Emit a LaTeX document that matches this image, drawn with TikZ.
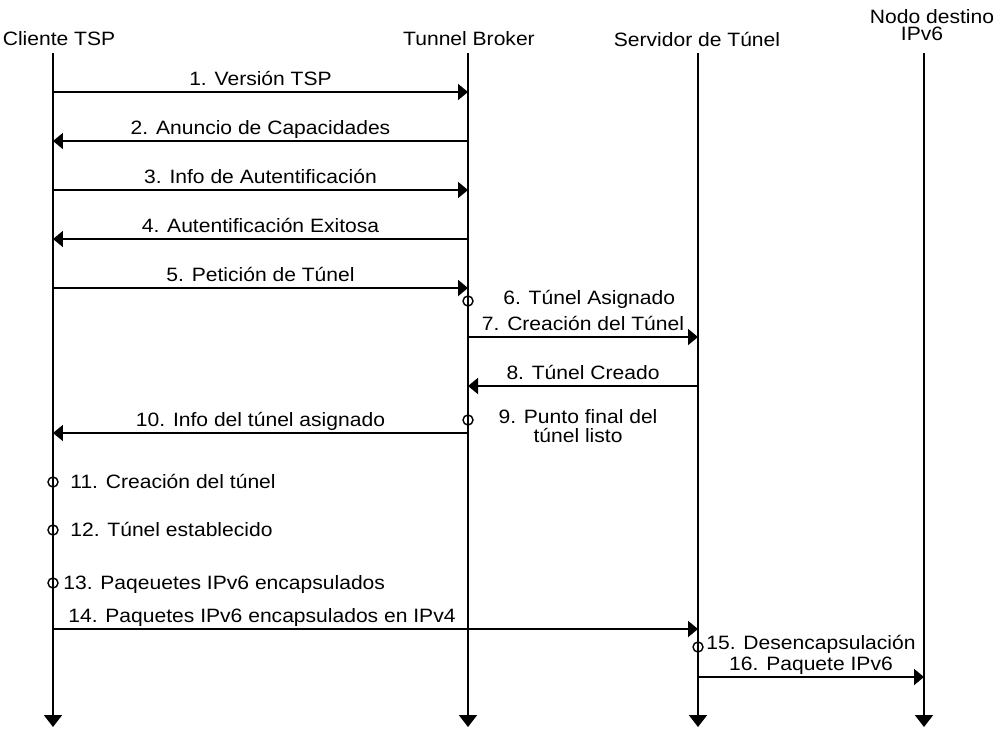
\documentclass[tikz,border=0pt]{standalone}
\usepackage{fontspec}
\setmainfont{Liberation Sans}[FakeStretch=1.09]
\usetikzlibrary{arrows.meta}

\begin{document}
\begin{tikzpicture}[x=0.02cm,y=-0.02cm,
    font=\fontsize{11}{13}\selectfont,
    >={Triangle[length=0.2cm,width=0.32cm]},
    msg/.style={line width=1.1pt,->},
    life/.style={line width=1.1pt,-{Triangle[length=0.24cm,width=0.36cm]}},
    lbl/.style={inner sep=0pt,anchor=base},
    evt/.style={circle,draw,line width=0.8pt,minimum size=0.2cm,inner sep=0pt}]

  % lifeline positions (x) and vertical extent (y)
  \def\xC{53}   % Cliente TSP
  \def\xB{468}  % Tunnel Broker
  \def\xS{698}  % Servidor de Tunel
  \def\xN{924}  % Nodo destino IPv6
  \def\yT{53}
  \def\yE{727}

  \fill[white] (0,0) rectangle (997,728);
  \useasboundingbox (0,0) rectangle (997,728);

  % =====================================================================
  % participants and lifelines
  % =====================================================================
  \node[lbl] (hC) at (59,45) {Cliente TSP};
  \node[lbl] (hB) at (469,45) {Tunnel Broker};
  \node[lbl] (hS) at (697,46) {Servidor de Túnel};
  \node[lbl] (hN) at (932,23) {Nodo destino};
  \node[lbl] (hNb) at (922,40) {IPv6};

  \foreach \n/\x in {C/\xC, B/\xB, S/\xS, N/\xN} {
    \coordinate (\n top) at (\x,\yT);
    \coordinate (\n end) at (\x,\yE);
    \draw[life] (\n top) -- (\n end);
  }

  % =====================================================================
  % messages (label baseline 7px above the arrow)
  % =====================================================================
  \foreach \s/\e/\y/\lab [count=\i] in {
      \xC/\xB/92/{1. Versión TSP},
      \xB/\xC/141/{2. Anuncio de Capacidades},
      \xC/\xB/190/{3. Info de Autentificación},
      \xB/\xC/239/{4. Autentificación Exitosa},
      \xC/\xB/288/{5. Petición de Túnel},
      \xB/\xS/337/{7. Creación del Túnel},
      \xS/\xB/386/{8. Túnel Creado},
      \xB/\xC/433/{10. Info del túnel asignado},
      \xS/\xN/677/{16. Paquete IPv6}} {
    \coordinate (m\i s) at (\s,\y);
    \coordinate (m\i e) at (\e,\y);
    \draw[msg] (m\i s) -- (m\i e);
    \node[lbl] (m\i) at ({(\s+\e)/2},\y-7) {\lab};
  }

  % 14: client straight to the tunnel server
  \coordinate (p14s) at (\xC,629);
  \coordinate (p14e) at (\xS,629);
  \draw[msg] (p14s) -- (p14e);
  \node[lbl,anchor=base west] (m14) at (68,622)
        {14. Paquetes IPv6 encapsulados en IPv4};

  % =====================================================================
  % local events on a lifeline
  % =====================================================================
  \node[evt] (e6) at (\xB,301) {};
  \node[lbl,anchor=base west] (l6) at (503,304) {6. Túnel Asignado};

  \node[evt] (e9) at (\xB,420) {};
  \node[inner sep=0pt,anchor=north,align=center,
        font=\fontsize{11}{10.8}\selectfont] (l9) at (578,409)
        {9. Punto final del\\túnel listo};

  \node[evt] (e11) at (\xC,482) {};
  \node[lbl,anchor=base west] (l11) at (70,488) {11. Creación del túnel};
  \node[evt] (e12) at (\xC,530) {};
  \node[lbl,anchor=base west] (l12) at (70,536) {12. Túnel establecido};
  \node[evt] (e13) at (\xC,583) {};
  \node[lbl,anchor=base west] (l13) at (63,589) {13. Paqeuetes IPv6 encapsulados};

  \node[evt] (e15) at (\xS,647) {};
  \node[lbl,anchor=base west] (l15) at (706,649) {15. Desencapsulación};

\end{tikzpicture}
\end{document}
